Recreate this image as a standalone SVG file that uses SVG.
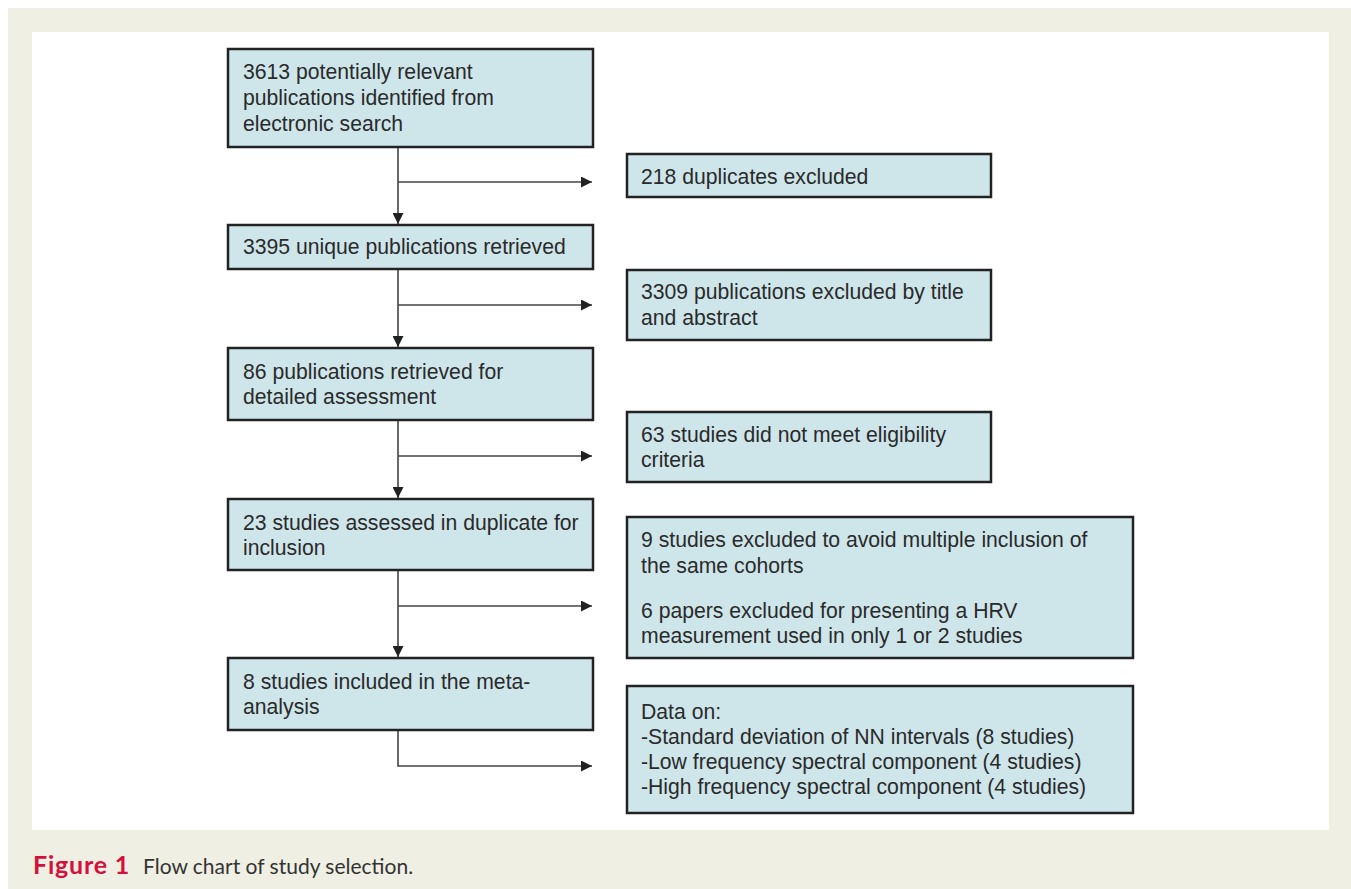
<svg xmlns="http://www.w3.org/2000/svg" width="1351" height="889" viewBox="0 0 1351 889">
<defs>
<style>
.box{fill:#cee6ea;stroke:#222;stroke-width:2.5}
.t{font-family:"Liberation Sans",Arial,sans-serif;font-size:21.2px;fill:#2a2a2a}
.ln{stroke:#444;stroke-width:1.6;fill:none}
.cap{font-family:Lato,"Open Sans",sans-serif;font-size:21px}
</style>
<marker id="ah" viewBox="0 0 10 10" refX="10" refY="5" markerWidth="11" markerHeight="11" markerUnits="userSpaceOnUse" orient="auto">
<path d="M0,0 L10,5 L0,10 Z" fill="#222"/>
</marker>
</defs>
<rect x="0" y="0" width="1351" height="889" fill="#ffffff"/>
<rect x="8" y="8" width="1343" height="881" fill="#efefe3"/>
<rect x="32" y="32" width="1297" height="798" fill="#ffffff"/>

<g id="connectors">
<path class="ln" d="M398,147 V224" marker-end="url(#ah)"/>
<path class="ln" d="M398,182 H592" marker-end="url(#ah)"/>
<path class="ln" d="M398,269 V347" marker-end="url(#ah)"/>
<path class="ln" d="M398,305 H592" marker-end="url(#ah)"/>
<path class="ln" d="M398,420 V498" marker-end="url(#ah)"/>
<path class="ln" d="M398,456 H592" marker-end="url(#ah)"/>
<path class="ln" d="M398,570 V657" marker-end="url(#ah)"/>
<path class="ln" d="M398,606 H592" marker-end="url(#ah)"/>
<path class="ln" d="M398,730 V766 H592" marker-end="url(#ah)"/>
</g>

<g id="n1">
<rect class="box" x="228" y="49" width="365" height="98"/>
<text class="t" x="243" y="79">3613 potentially relevant</text>
<text class="t" x="243" y="105">publications identified from</text>
<text class="t" x="243" y="131">electronic search</text>
</g>
<g id="n2">
<rect class="box" x="228" y="225" width="365" height="44"/>
<text class="t" x="243" y="254">3395 unique publications retrieved</text>
</g>
<g id="n3">
<rect class="box" x="228" y="348" width="365" height="72"/>
<text class="t" x="243" y="379">86 publications retrieved for</text>
<text class="t" x="243" y="404">detailed assessment</text>
</g>
<g id="n4">
<rect class="box" x="228" y="499" width="365" height="71"/>
<text class="t" x="243" y="530">23 studies assessed in duplicate for</text>
<text class="t" x="243" y="555">inclusion</text>
</g>
<g id="n5">
<rect class="box" x="228" y="658" width="365" height="72"/>
<text class="t" x="243" y="689">8 studies included in the meta-</text>
<text class="t" x="243" y="714">analysis</text>
</g>

<g id="e1">
<rect class="box" x="627" y="154" width="364" height="43"/>
<text class="t" x="641" y="184">218 duplicates excluded</text>
</g>
<g id="e2">
<rect class="box" x="627" y="270" width="364" height="70"/>
<text class="t" x="641" y="299">3309 publications excluded by title</text>
<text class="t" x="641" y="325">and abstract</text>
</g>
<g id="e3">
<rect class="box" x="627" y="412" width="364" height="70"/>
<text class="t" x="641" y="442">63 studies did not meet eligibility</text>
<text class="t" x="641" y="467">criteria</text>
</g>
<g id="e4">
<rect class="box" x="627" y="517" width="506" height="141"/>
<text class="t" x="641" y="547">9 studies excluded to avoid multiple inclusion of</text>
<text class="t" x="641" y="573">the same cohorts</text>
<text class="t" x="641" y="618">6 papers excluded for presenting a HRV</text>
<text class="t" x="641" y="643">measurement used in only 1 or 2 studies</text>
</g>
<g id="e5">
<rect class="box" x="627" y="686" width="506" height="127"/>
<text class="t" x="641" y="719">Data on:</text>
<text class="t" x="641" y="744">-Standard deviation of NN intervals (8 studies)</text>
<text class="t" x="641" y="769">-Low frequency spectral component (4 studies)</text>
<text class="t" x="641" y="794">-High frequency spectral component (4 studies)</text>
</g>

<g id="caption">
<text class="cap" x="33" y="874"><tspan font-weight="bold" font-size="25px" letter-spacing="0.8" fill="#d4103c">Figure 1</tspan><tspan x="143" fill="#333">Flow chart of study selection.</tspan></text>
</g>
</svg>
